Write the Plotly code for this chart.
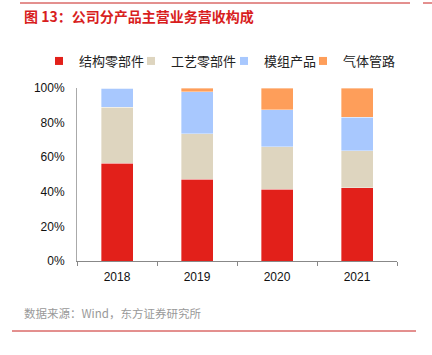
import plotly.graph_objects as go

years = ["2018", "2019", "2020", "2021"]
structural = [56.5, 47.2, 41.6, 42.4]
process = [32.5, 26.4, 24.3, 21.2]
module = [11.0, 24.3, 21.6, 19.6]
gas = [0.0, 2.1, 12.5, 16.8]

series_names = ["结构零部件", "工艺零部件", "模组产品", "气体管路"]
colors = ["#E2201A", "#DED5BF", "#A8C8FE", "#FE9E5A"]

W, H = 432, 355
L, R, T, B = 77, 397, 88, 261  # plot area px


def px_x(x):
    return (x - L) / (R - L)


def px_y(y):
    return (B - y) / (B - T)


cjk = "Noto Sans CJK SC, sans-serif"
legend_names = ["legend", "legend2", "legend3", "legend4"]
legend_sq_px = [57, 149, 242, 321]  # swatch centres (layout)

fig = go.Figure()
for i, (name, vals, c) in enumerate(zip(series_names, [structural, process, module, gas], colors)):
    fig.add_trace(go.Bar(
        x=years, y=vals, name=name, legendgroup=name, showlegend=False,
        marker=dict(color=c, line=dict(color="rgba(255,255,255,0.6)", width=0.6)),
    ))
    # legend-only entry with a small square swatch
    fig.add_trace(go.Scatter(
        x=[None], y=[None], mode="markers", name=name, legendgroup=name,
        legend=legend_names[i],
        marker=dict(symbol="square", size=8, color=c),
    ))

legend_common = dict(
    orientation="h", xref="paper", yref="paper", xanchor="left", yanchor="middle",
    y=px_y(61), font=dict(family=cjk, size=13, color="#222"),
    bgcolor="rgba(0,0,0,0)", itemsizing="trace",
)
layout_legends = {}
for ln, sx in zip(legend_names, legend_sq_px):
    layout_legends[ln] = dict(legend_common, x=px_x(sx - 18))

fig.update_layout(
    width=W, height=H,
    barmode="stack", bargap=0.6,
    margin=dict(l=L, r=W - R, t=T, b=H - B, autoexpand=False),
    paper_bgcolor="white", plot_bgcolor="white",
    font=dict(family="Liberation Sans, Arial, sans-serif", size=12, color="#000"),
    showlegend=True,
    xaxis=dict(
        type="category", showline=True, linecolor="#888", linewidth=1,
        ticks="outside", tickson="boundaries", ticklen=4, tickcolor="#888",
        showgrid=False, tickfont=dict(size=12, color="#111"), automargin=False,
        ticklabelstandoff=5,
    ),
    yaxis=dict(
        range=[0, 100], tickvals=[0, 20, 40, 60, 80, 100],
        ticktext=["0%", "20%", "40%", "60%", "80%", "100%"],
        showline=True, linecolor="#aaa", linewidth=1, showgrid=False,
        ticks="", tickfont=dict(size=12, color="#111"), zeroline=False, automargin=False,
        ticklabelstandoff=9,
    ),
    annotations=[
        dict(text="图 13：公司分产品主营业务营收构成", xref="paper", yref="paper",
             x=px_x(22), y=px_y(16), xanchor="left", yanchor="middle", showarrow=False,
             font=dict(family=cjk, size=14, color="#D81E1E", weight="bold")),
        dict(text="数据来源：Wind，东方证券研究所", xref="paper", yref="paper",
             x=px_x(22), y=px_y(313), xanchor="left", yanchor="middle", showarrow=False,
             font=dict(family=cjk, size=11.5, color="#999")),
    ],
    shapes=[
        dict(type="line", xref="paper", yref="paper", x0=px_x(20), x1=px_x(410),
             y0=px_y(3), y1=px_y(3), line=dict(color="#C8201E", width=1)),
        dict(type="line", xref="paper", yref="paper", x0=px_x(423), x1=px_x(432),
             y0=px_y(3), y1=px_y(3), line=dict(color="#C8201E", width=1)),
        dict(type="line", xref="paper", yref="paper", x0=px_x(12), x1=px_x(416),
             y0=px_y(331), y1=px_y(331), line=dict(color="#C8201E", width=1)),
    ],
    **layout_legends,
)

fig.write_html("out.html", config={"displayModeBar": False},
               post_script="document.body.style.margin='0';")
